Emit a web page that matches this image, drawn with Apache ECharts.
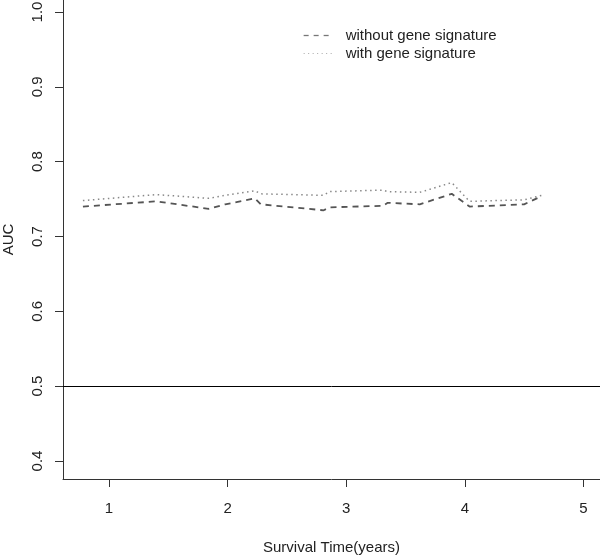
<!DOCTYPE html>
<html>
<head>
<meta charset="utf-8">
<script src="https://cdn.jsdelivr.net/npm/echarts@6/dist/echarts.min.js"></script>
<style>
  html, body { margin: 0; padding: 0; background: #fff; }
  #chart { width: 600px; height: 555px; }
</style>
</head>
<body>
<div id="chart"></div>
<script>
// survival time (years) where AUC was evaluated
const times = [0.78, 1.40, 1.84, 1.98, 2.23, 2.28, 2.81, 2.86, 3.31, 3.35, 3.62, 3.89, 4.04, 4.50, 4.65]
const aucWithout = [0.740, 0.747, 0.737, 0.743, 0.751, 0.743, 0.735, 0.739, 0.741, 0.745, 0.743, 0.757, 0.740, 0.743, 0.754]
const aucWith = [0.748, 0.756, 0.751, 0.755, 0.761, 0.757, 0.755, 0.760, 0.762, 0.760, 0.759, 0.772, 0.747, 0.749, 0.755]
const xTicks = [1, 2, 3, 4, 5]
const yTicks = [0.4, 0.5, 0.6, 0.7, 0.8, 0.9, 1.0]
const refLine = 0.5

const font = 'Liberation Sans, Arial, sans-serif'
const chart = echarts.init(document.getElementById('chart'))

chart.setOption({
  animation: false,
  backgroundColor: '#fff',
  textStyle: { fontFamily: font },
  grid: { left: 63, right: 0, top: 0, bottom: 76, outerBoundsMode: 'none', containLabel: false },
  legend: {
    orient: 'vertical',
    left: 298,
    top: 23,
    itemWidth: 28,
    itemHeight: 12,
    itemGap: 3,
    itemStyle: { opacity: 0 },
    textStyle: { fontFamily: font, fontSize: 15, color: '#222', padding: [0, 0, 0, 9] },
    data: [
      { name: 'without gene signature', lineStyle: { type: [5, 5], width: 1.3, color: '#777' } },
      { name: 'with gene signature', lineStyle: { type: [1, 3.5], width: 1.2, color: '#aaa' } }
    ]
  },
  xAxis: {
    type: 'value',
    min: 0.612,
    max: 5.14,
    name: 'Survival Time(years)',
    nameLocation: 'middle',
    nameGap: 61,
    nameTextStyle: { fontFamily: font, fontSize: 15, color: '#222' },
    axisLine: { show: true, lineStyle: { color: '#333', width: 1 } },
    axisTick: { show: true, length: 8, customValues: xTicks, lineStyle: { color: '#333' } },
    axisLabel: { customValues: xTicks, margin: 22, fontSize: 15, color: '#222', fontFamily: font },
    splitLine: { show: false }
  },
  yAxis: {
    type: 'value',
    min: 0.376,
    max: 1.016,
    name: 'AUC',
    nameLocation: 'middle',
    nameRotate: 90,
    nameGap: 47,
    nameTextStyle: { fontFamily: font, fontSize: 15, color: '#222' },
    axisLine: { show: true, lineStyle: { color: '#333', width: 1 } },
    axisTick: { show: true, length: 8, customValues: yTicks, lineStyle: { color: '#333' } },
    axisLabel: {
      customValues: yTicks,
      rotate: 90,
      margin: 18,
      fontSize: 15,
      color: '#222',
      fontFamily: font,
      formatter: v => v.toFixed(1)
    },
    splitLine: { show: false }
  },
  series: [
    {
      name: 'without gene signature',
      type: 'line',
      symbol: 'none',
      data: times.map((t, i) => [t, aucWithout[i]]),
      itemStyle: { color: '#555' },
      lineStyle: { color: '#555', width: 1.8, type: [6, 5] },
      markLine: {
        silent: true,
        symbol: 'none',
        label: { show: false },
        lineStyle: { color: '#000', width: 1, type: 'solid' },
        data: [{ yAxis: refLine }]
      }
    },
    {
      name: 'with gene signature',
      type: 'line',
      symbol: 'none',
      data: times.map((t, i) => [t, aucWith[i]]),
      itemStyle: { color: '#888' },
      lineStyle: { color: '#888', width: 1.5, type: [1.5, 3.5] }
    }
  ]
})
</script>
</body>
</html>
